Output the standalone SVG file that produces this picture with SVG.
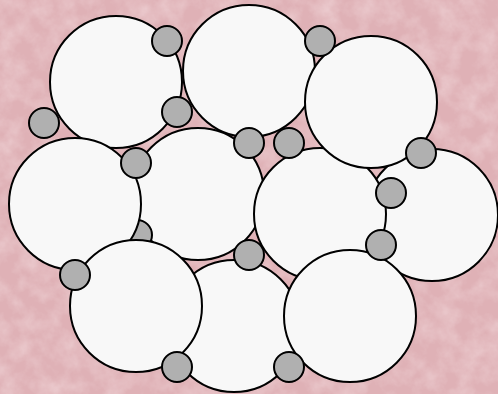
<svg xmlns="http://www.w3.org/2000/svg" width="498" height="394" viewBox="0 0 498 394">
  <defs>
    <filter id="marble" x="0" y="0" width="100%" height="100%">
      <feTurbulence type="fractalNoise" baseFrequency="0.05" numOctaves="4" seed="7" result="n"/>
      <feColorMatrix in="n" type="matrix" values="0 0 0 0 1  0 0 0 0 0.9  0 0 0 0 0.91  1.3 0 0 0 -0.45" result="w"/>
      <feComposite in="w" in2="SourceGraphic" operator="in"/>
    </filter>
    <style>
      .big{fill:#f8f8f8;stroke:#000;stroke-width:2}
      .small{fill:#b0b0b0;stroke:#000;stroke-width:2}
    </style>
  </defs>
  <g id="background">
    <rect width="498" height="394" fill="#dfb1b6"/>
    <rect width="498" height="394" fill="#dfb1b6" filter="url(#marble)" opacity="0.5"/>
  </g>
  <g id="large-circles">
    <circle id="B" class="big" cx="249" cy="71" r="66"/>
    <circle id="E" class="big" cx="198" cy="194" r="66"/>
    <circle id="s-hidden" class="small" cx="137" cy="235" r="15"/>
    <circle id="A" class="big" cx="116" cy="82" r="66"/>
    <circle id="D" class="big" cx="75" cy="204" r="66"/>
    <circle id="G" class="big" cx="432" cy="215" r="66"/>
    <circle id="F" class="big" cx="320" cy="214" r="66"/>
    <circle id="C" class="big" cx="371" cy="102" r="66"/>
    <circle id="I" class="big" cx="234" cy="326" r="66"/>
    <circle id="H" class="big" cx="136" cy="306" r="66"/>
    <circle id="J" class="big" cx="350" cy="316" r="66"/>
  </g>
  <g id="small-circles">
    <circle class="small" cx="167" cy="41" r="15"/>
    <circle class="small" cx="44" cy="123" r="15"/>
    <circle class="small" cx="177" cy="112" r="15"/>
    <circle class="small" cx="136" cy="163" r="15"/>
    <circle class="small" cx="249" cy="143" r="15"/>
    <circle class="small" cx="320" cy="41" r="15"/>
    <circle class="small" cx="289" cy="143" r="15"/>
    <circle class="small" cx="421" cy="153" r="15"/>
    <circle class="small" cx="391" cy="193" r="15"/>
    <circle class="small" cx="381" cy="245" r="15"/>
    <circle class="small" cx="249" cy="255" r="15"/>
    <circle class="small" cx="75" cy="275" r="15"/>
    <circle class="small" cx="177" cy="367" r="15"/>
    <circle class="small" cx="289" cy="367" r="15"/>
  </g>
</svg>
